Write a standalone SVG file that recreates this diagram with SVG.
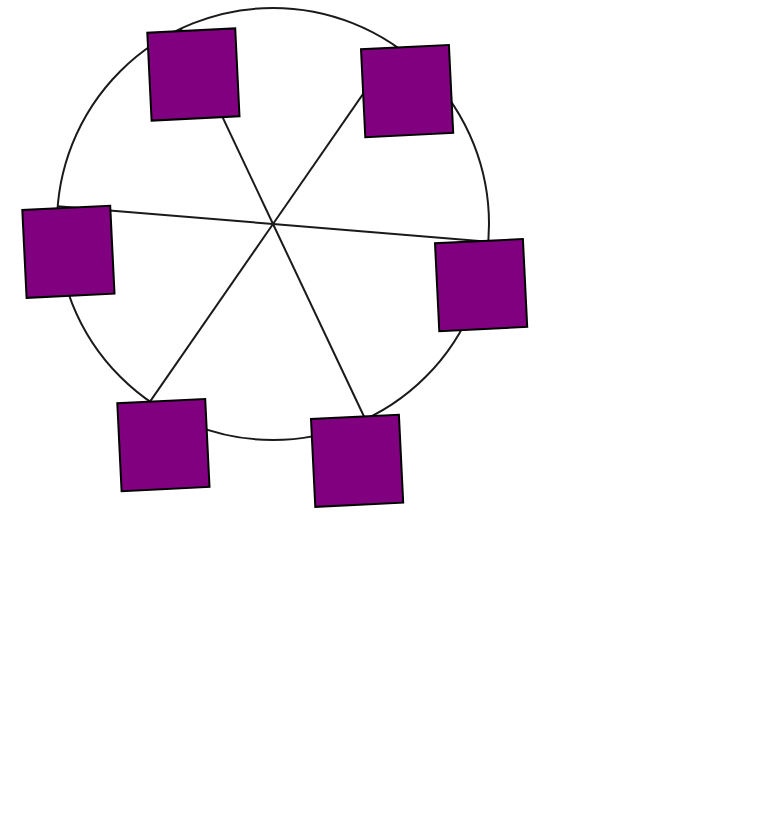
<svg xmlns="http://www.w3.org/2000/svg" width="779" height="838" viewBox="0 0 779 838">
<style>
.ln{stroke:#1a1a1a;stroke-width:2;fill:none}
.sq{fill:#800080;stroke:#000;stroke-width:2}
</style>
<rect width="779" height="838" fill="#fff"/>
<g id="connectors">
<circle class="ln" cx="273" cy="224" r="216"/>
<line class="ln" x1="273" y1="224" x2="180.8" y2="28.7"/>
<line class="ln" x1="273" y1="224" x2="396" y2="46.4"/>
<line class="ln" x1="273" y1="224" x2="57.7" y2="206.3"/>
<line class="ln" x1="273" y1="224" x2="488.3" y2="241.7"/>
<line class="ln" x1="273" y1="224" x2="150" y2="401.6"/>
<line class="ln" x1="273" y1="224" x2="365.3" y2="419.3"/>
</g>
<g id="node1" transform="translate(147.3,32.7) rotate(-2.8)"><rect class="sq" width="88" height="88"/></g>
<g id="node2" transform="translate(361,49.3) rotate(-2.8)"><rect class="sq" width="88" height="88"/></g>
<g id="node3" transform="translate(22.3,210) rotate(-2.8)"><rect class="sq" width="88" height="88"/></g>
<g id="node4" transform="translate(435,243.3) rotate(-2.8)"><rect class="sq" width="88" height="88"/></g>
<g id="node5" transform="translate(117.3,403.3) rotate(-2.8)"><rect class="sq" width="88" height="88"/></g>
<g id="node6" transform="translate(311,419) rotate(-2.8)"><rect class="sq" width="88" height="88"/></g>
</svg>
